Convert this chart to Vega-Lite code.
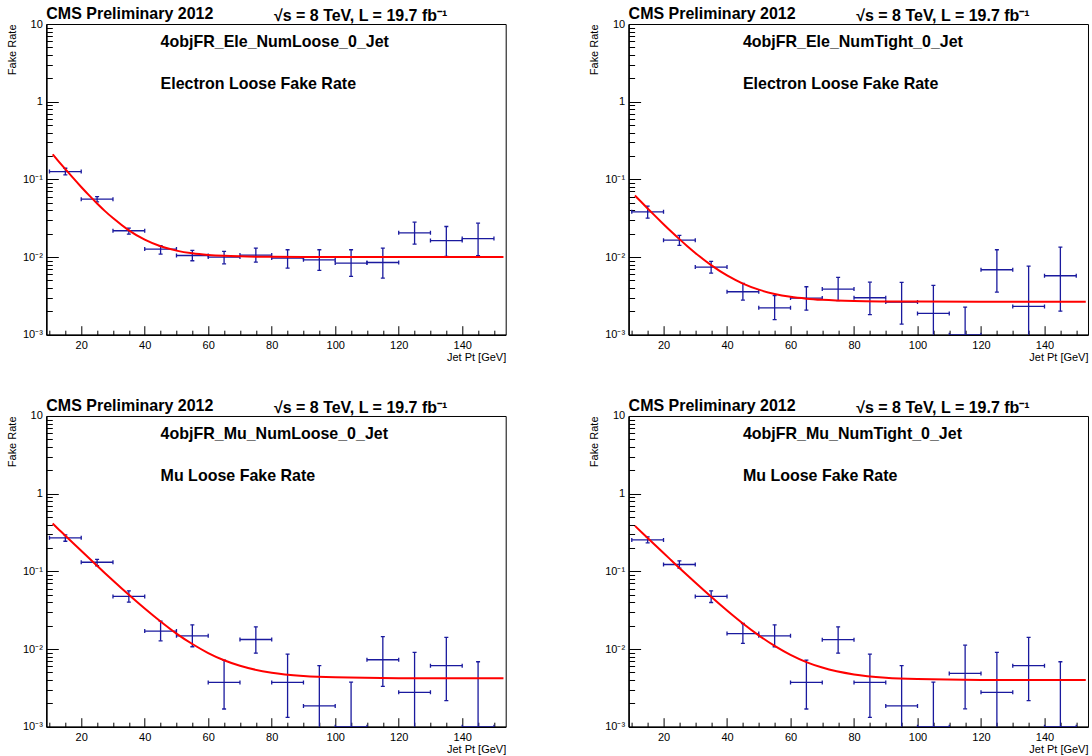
{
 "$schema": "https://vega.github.io/schema/vega-lite/v6.json",
 "background": "white",
 "padding": {"left": 5.3, "top": 5, "right": 4, "bottom": 4},
 "bounds": "flush",
 "columns": 2,
 "spacing": {"row": 81, "column": 122.3},
 "datasets": {
  "all": [
   {"p":"A","kind":"pt","x":15,"xlo":10,"xhi":20,"y":0.126,"lo":0.114,"hi":0.139},
   {"p":"A","kind":"pt","x":25,"xlo":20,"xhi":30,"y":0.0556,"lo":0.0514,"hi":0.0601},
   {"p":"A","kind":"pt","x":35,"xlo":30,"xhi":40,"y":0.0218,"lo":0.0197,"hi":0.0235},
   {"p":"A","kind":"pt","x":45,"xlo":40,"xhi":50,"y":0.01264,"lo":0.0109,"hi":0.01396},
   {"p":"A","kind":"pt","x":55,"xlo":50,"xhi":60,"y":0.01047,"lo":0.00895,"hi":0.01216},
   {"p":"A","kind":"pt","x":65,"xlo":60,"xhi":70,"y":0.0100,"lo":0.00818,"hi":0.0118},
   {"p":"A","kind":"pt","x":75,"xlo":70,"xhi":80,"y":0.0106,"lo":0.00861,"hi":0.01303},
   {"p":"A","kind":"pt","x":85,"xlo":80,"xhi":90,"y":0.0097,"lo":0.0072,"hi":0.0124},
   {"p":"A","kind":"pt","x":95,"xlo":90,"xhi":100,"y":0.0092,"lo":0.00672,"hi":0.0124},
   {"p":"A","kind":"pt","x":105,"xlo":100,"xhi":110,"y":0.00836,"lo":0.00562,"hi":0.0124},
   {"p":"A","kind":"pt","x":115,"xlo":110,"xhi":120,"y":0.0085,"lo":0.00536,"hi":0.01303},
   {"p":"A","kind":"pt","x":125,"xlo":120,"xhi":130,"y":0.0205,"lo":0.01466,"hi":0.0281},
   {"p":"A","kind":"pt","x":135,"xlo":130,"xhi":140,"y":0.0163,"lo":0.01017,"hi":0.0247},
   {"p":"A","kind":"pt","x":145,"xlo":140,"xhi":150,"y":0.0173,"lo":0.01038,"hi":0.0273},

   {"p":"B","kind":"pt","x":15,"xlo":10,"xhi":20,"y":0.0382,"lo":0.0316,"hi":0.0452},
   {"p":"B","kind":"pt","x":25,"xlo":20,"xhi":30,"y":0.0165,"lo":0.0141,"hi":0.019},
   {"p":"B","kind":"pt","x":35,"xlo":30,"xhi":40,"y":0.00742,"lo":0.00621,"hi":0.00877},
   {"p":"B","kind":"pt","x":45,"xlo":40,"xhi":50,"y":0.00357,"lo":0.00279,"hi":0.00457},
   {"p":"B","kind":"pt","x":55,"xlo":50,"xhi":60,"y":0.00222,"lo":0.00156,"hi":0.00318},
   {"p":"B","kind":"pt","x":65,"xlo":60,"xhi":70,"y":0.00296,"lo":0.00207,"hi":0.00414},
   {"p":"B","kind":"pt","x":75,"xlo":70,"xhi":80,"y":0.00387,"lo":0.00274,"hi":0.00546},
   {"p":"B","kind":"pt","x":85,"xlo":80,"xhi":90,"y":0.00299,"lo":0.00181,"hi":0.00475},
   {"p":"B","kind":"pt","x":95,"xlo":90,"xhi":100,"y":0.00263,"lo":0.00137,"hi":0.00472},
   {"p":"B","kind":"pt","x":105,"xlo":100,"xhi":110,"y":0.00188,"lo":0.0004,"hi":0.00432},
   {"p":"B","kind":"pt","x":115,"xlo":110,"xhi":120,"y":0.001,"lo":0.0004,"hi":0.00227},
   {"p":"B","kind":"pt","x":125,"xlo":120,"xhi":130,"y":0.00686,"lo":0.00354,"hi":0.0124},
   {"p":"B","kind":"pt","x":135,"xlo":130,"xhi":140,"y":0.00231,"lo":0.0004,"hi":0.00764},
   {"p":"B","kind":"pt","x":145,"xlo":140,"xhi":150,"y":0.00574,"lo":0.00201,"hi":0.01342},

   {"p":"C","kind":"pt","x":15,"xlo":10,"xhi":20,"y":0.27,"lo":0.244,"hi":0.294},
   {"p":"C","kind":"pt","x":25,"xlo":20,"xhi":30,"y":0.131,"lo":0.118,"hi":0.143},
   {"p":"C","kind":"pt","x":35,"xlo":30,"xhi":40,"y":0.0475,"lo":0.0401,"hi":0.0561},
   {"p":"C","kind":"pt","x":45,"xlo":40,"xhi":50,"y":0.017,"lo":0.01277,"hi":0.0229},
   {"p":"C","kind":"pt","x":55,"xlo":50,"xhi":60,"y":0.0148,"lo":0.0107,"hi":0.0205},
   {"p":"C","kind":"pt","x":65,"xlo":60,"xhi":70,"y":0.00372,"lo":0.00169,"hi":0.0072},
   {"p":"C","kind":"pt","x":75,"xlo":70,"xhi":80,"y":0.01327,"lo":0.00885,"hi":0.0193},
   {"p":"C","kind":"pt","x":85,"xlo":80,"xhi":90,"y":0.00372,"lo":0.00132,"hi":0.00861},
   {"p":"C","kind":"pt","x":95,"xlo":90,"xhi":100,"y":0.00185,"lo":0.0004,"hi":0.0061},
   {"p":"C","kind":"pt","x":105,"xlo":100,"xhi":110,"y":0.001,"lo":0.0004,"hi":0.00375},
   {"p":"C","kind":"pt","x":115,"xlo":110,"xhi":120,"y":0.00728,"lo":0.0033,"hi":0.0144},
   {"p":"C","kind":"pt","x":125,"xlo":120,"xhi":130,"y":0.00277,"lo":0.0004,"hi":0.00904},
   {"p":"C","kind":"pt","x":135,"xlo":130,"xhi":140,"y":0.0061,"lo":0.00216,"hi":0.0141},
   {"p":"C","kind":"pt","x":145,"xlo":140,"xhi":150,"y":0.001,"lo":0.0004,"hi":0.00686},

   {"p":"D","kind":"pt","x":15,"xlo":10,"xhi":20,"y":0.254,"lo":0.233,"hi":0.278},
   {"p":"D","kind":"pt","x":25,"xlo":20,"xhi":30,"y":0.1225,"lo":0.11,"hi":0.1365},
   {"p":"D","kind":"pt","x":35,"xlo":30,"xhi":40,"y":0.0475,"lo":0.0397,"hi":0.0561},
   {"p":"D","kind":"pt","x":45,"xlo":40,"xhi":50,"y":0.0158,"lo":0.0118,"hi":0.0213},
   {"p":"D","kind":"pt","x":55,"xlo":50,"xhi":60,"y":0.0148,"lo":0.0107,"hi":0.0205},
   {"p":"D","kind":"pt","x":65,"xlo":60,"xhi":70,"y":0.00372,"lo":0.00169,"hi":0.0072},
   {"p":"D","kind":"pt","x":75,"xlo":70,"xhi":80,"y":0.0132,"lo":0.00885,"hi":0.0193},
   {"p":"D","kind":"pt","x":85,"xlo":80,"xhi":90,"y":0.00372,"lo":0.00132,"hi":0.00861},
   {"p":"D","kind":"pt","x":95,"xlo":90,"xhi":100,"y":0.00185,"lo":0.0004,"hi":0.0061},
   {"p":"D","kind":"pt","x":105,"xlo":100,"xhi":110,"y":0.001,"lo":0.0004,"hi":0.00375},
   {"p":"D","kind":"pt","x":115,"xlo":110,"xhi":120,"y":0.00485,"lo":0.0017,"hi":0.0112},
   {"p":"D","kind":"pt","x":125,"xlo":120,"xhi":130,"y":0.00277,"lo":0.0004,"hi":0.00904},
   {"p":"D","kind":"pt","x":135,"xlo":130,"xhi":140,"y":0.0061,"lo":0.00216,"hi":0.0141},
   {"p":"D","kind":"pt","x":145,"xlo":140,"xhi":150,"y":0.001,"lo":0.0004,"hi":0.00686},

   {"p":"A","kind":"fit","x":11,"y":0.21},{"p":"A","kind":"fit","x":13,"y":0.1683},{"p":"A","kind":"fit","x":15,"y":0.1352},{"p":"A","kind":"fit","x":17.5,"y":0.1035},{"p":"A","kind":"fit","x":20,"y":0.0798},{"p":"A","kind":"fit","x":22.5,"y":0.0621},{"p":"A","kind":"fit","x":25,"y":0.0489},{"p":"A","kind":"fit","x":27.5,"y":0.039},{"p":"A","kind":"fit","x":30,"y":0.0317},{"p":"A","kind":"fit","x":35,"y":0.02206},{"p":"A","kind":"fit","x":40,"y":0.01672},{"p":"A","kind":"fit","x":45,"y":0.01374},{"p":"A","kind":"fit","x":50,"y":0.01209},{"p":"A","kind":"fit","x":55,"y":0.01116},{"p":"A","kind":"fit","x":60,"y":0.01065},{"p":"A","kind":"fit","x":65,"y":0.01036},{"p":"A","kind":"fit","x":70,"y":0.0102},{"p":"A","kind":"fit","x":80,"y":0.01006},{"p":"A","kind":"fit","x":90,"y":0.01002},{"p":"A","kind":"fit","x":100,"y":0.01},{"p":"A","kind":"fit","x":120,"y":0.01},{"p":"A","kind":"fit","x":153,"y":0.01},

   {"p":"B","kind":"fit","x":11,"y":0.06196},{"p":"B","kind":"fit","x":13,"y":0.05108},{"p":"B","kind":"fit","x":15,"y":0.04219},{"p":"B","kind":"fit","x":17.5,"y":0.03334},{"p":"B","kind":"fit","x":20,"y":0.02647},{"p":"B","kind":"fit","x":22.5,"y":0.02114},{"p":"B","kind":"fit","x":25,"y":0.017},{"p":"B","kind":"fit","x":27.5,"y":0.01379},{"p":"B","kind":"fit","x":30,"y":0.0113},{"p":"B","kind":"fit","x":35,"y":0.00786},{"p":"B","kind":"fit","x":40,"y":0.00579},{"p":"B","kind":"fit","x":45,"y":0.00455},{"p":"B","kind":"fit","x":50,"y":0.0038},{"p":"B","kind":"fit","x":55,"y":0.00334},{"p":"B","kind":"fit","x":60,"y":0.00307},{"p":"B","kind":"fit","x":65,"y":0.00291},{"p":"B","kind":"fit","x":70,"y":0.00281},{"p":"B","kind":"fit","x":80,"y":0.00271},{"p":"B","kind":"fit","x":90,"y":0.00268},{"p":"B","kind":"fit","x":100,"y":0.00267},{"p":"B","kind":"fit","x":120,"y":0.00266},{"p":"B","kind":"fit","x":153,"y":0.00266},

   {"p":"C","kind":"fit","x":11,"y":0.412},{"p":"C","kind":"fit","x":13,"y":0.3442},{"p":"C","kind":"fit","x":15,"y":0.2875},{"p":"C","kind":"fit","x":17.5,"y":0.2297},{"p":"C","kind":"fit","x":20,"y":0.1838},{"p":"C","kind":"fit","x":22.5,"y":0.1472},{"p":"C","kind":"fit","x":25,"y":0.118},{"p":"C","kind":"fit","x":27.5,"y":0.0948},{"p":"C","kind":"fit","x":30,"y":0.0763},{"p":"C","kind":"fit","x":35,"y":0.0499},{"p":"C","kind":"fit","x":40,"y":0.0332},{"p":"C","kind":"fit","x":45,"y":0.0226},{"p":"C","kind":"fit","x":50,"y":0.0158},{"p":"C","kind":"fit","x":55,"y":0.0116},{"p":"C","kind":"fit","x":60,"y":0.00888},{"p":"C","kind":"fit","x":65,"y":0.00716},{"p":"C","kind":"fit","x":70,"y":0.00608},{"p":"C","kind":"fit","x":80,"y":0.00495},{"p":"C","kind":"fit","x":90,"y":0.0045},{"p":"C","kind":"fit","x":100,"y":0.00432},{"p":"C","kind":"fit","x":120,"y":0.00422},{"p":"C","kind":"fit","x":153,"y":0.0042},

   {"p":"D","kind":"fit","x":11,"y":0.385},{"p":"D","kind":"fit","x":13,"y":0.3217},{"p":"D","kind":"fit","x":15,"y":0.2689},{"p":"D","kind":"fit","x":17.5,"y":0.215},{"p":"D","kind":"fit","x":20,"y":0.1721},{"p":"D","kind":"fit","x":22.5,"y":0.138},{"p":"D","kind":"fit","x":25,"y":0.1107},{"p":"D","kind":"fit","x":27.5,"y":0.089},{"p":"D","kind":"fit","x":30,"y":0.0717},{"p":"D","kind":"fit","x":35,"y":0.047},{"p":"D","kind":"fit","x":40,"y":0.0313},{"p":"D","kind":"fit","x":45,"y":0.0213},{"p":"D","kind":"fit","x":50,"y":0.01498},{"p":"D","kind":"fit","x":55,"y":0.01096},{"p":"D","kind":"fit","x":60,"y":0.00841},{"p":"D","kind":"fit","x":65,"y":0.00679},{"p":"D","kind":"fit","x":70,"y":0.00577},{"p":"D","kind":"fit","x":80,"y":0.0047},{"p":"D","kind":"fit","x":90,"y":0.00427},{"p":"D","kind":"fit","x":100,"y":0.0041},{"p":"D","kind":"fit","x":120,"y":0.004},{"p":"D","kind":"fit","x":153,"y":0.00398},

   {"p":"A","kind":"lab","x":9,"y":11.5,"text":"CMS Preliminary 2012"},
   {"p":"A","kind":"lab","x":80.7,"y":11.0,"text":"√s = 8 TeV, L = 19.7 fb⁻¹"},
   {"p":"A","kind":"lab","x":45,"y":5.1,"text":"4objFR_Ele_NumLoose_0_Jet"},
   {"p":"A","kind":"lab","x":45,"y":1.444,"text":"Electron Loose Fake Rate"},
   {"p":"B","kind":"lab","x":9,"y":11.5,"text":"CMS Preliminary 2012"},
   {"p":"B","kind":"lab","x":80.7,"y":11.0,"text":"√s = 8 TeV, L = 19.7 fb⁻¹"},
   {"p":"B","kind":"lab","x":45,"y":5.1,"text":"4objFR_Ele_NumTight_0_Jet"},
   {"p":"B","kind":"lab","x":45,"y":1.444,"text":"Electron Loose Fake Rate"},
   {"p":"C","kind":"lab","x":9,"y":11.5,"text":"CMS Preliminary 2012"},
   {"p":"C","kind":"lab","x":80.7,"y":11.0,"text":"√s = 8 TeV, L = 19.7 fb⁻¹"},
   {"p":"C","kind":"lab","x":45,"y":5.1,"text":"4objFR_Mu_NumLoose_0_Jet"},
   {"p":"C","kind":"lab","x":45,"y":1.444,"text":"Mu Loose Fake Rate"},
   {"p":"D","kind":"lab","x":9,"y":11.5,"text":"CMS Preliminary 2012"},
   {"p":"D","kind":"lab","x":80.7,"y":11.0,"text":"√s = 8 TeV, L = 19.7 fb⁻¹"},
   {"p":"D","kind":"lab","x":45,"y":5.1,"text":"4objFR_Mu_NumTight_0_Jet"},
   {"p":"D","kind":"lab","x":45,"y":1.444,"text":"Mu Loose Fake Rate"}
  ]
 },
 "data": {"name": "all"},
 "concat": [
   {"width": 459.4, "height": 310.7, "transform": [{"filter": "datum.p == 'A'"}], "layer": [
    {"transform": [{"filter": "datum.kind == 'pt'"}], "mark": {"type": "rule", "color": "#1a1a9e", "strokeWidth": 1.3, "clip": true},
     "encoding": {"x": {"field": "xlo", "type": "quantitative"}, "x2": {"field": "xhi"}, "y": {"field": "y", "type": "quantitative"}}},
    {"transform": [{"filter": "datum.kind == 'pt'"}], "mark": {"type": "rule", "color": "#1a1a9e", "strokeWidth": 1.3, "clip": true},
     "encoding": {"x": {"field": "x", "type": "quantitative"}, "y": {"field": "lo", "type": "quantitative"}, "y2": {"field": "hi"}}},
    {"transform": [{"filter": "datum.kind == 'pt'"}], "mark": {"type": "tick", "orient": "vertical", "size": 4, "thickness": 1.3, "color": "#1a1a9e", "opacity": 1, "clip": true},
     "encoding": {"x": {"field": "xlo", "type": "quantitative"}, "y": {"field": "y", "type": "quantitative"}}},
    {"transform": [{"filter": "datum.kind == 'pt'"}], "mark": {"type": "tick", "orient": "vertical", "size": 4, "thickness": 1.3, "color": "#1a1a9e", "opacity": 1, "clip": true},
     "encoding": {"x": {"field": "xhi", "type": "quantitative"}, "y": {"field": "y", "type": "quantitative"}}},
    {"transform": [{"filter": "datum.kind == 'pt'"}], "mark": {"type": "tick", "orient": "horizontal", "size": 4, "thickness": 1.3, "color": "#1a1a9e", "opacity": 1, "clip": true},
     "encoding": {"x": {"field": "x", "type": "quantitative"}, "y": {"field": "lo", "type": "quantitative"}}},
    {"transform": [{"filter": "datum.kind == 'pt'"}], "mark": {"type": "tick", "orient": "horizontal", "size": 4, "thickness": 1.3, "color": "#1a1a9e", "opacity": 1, "clip": true},
     "encoding": {"x": {"field": "x", "type": "quantitative"}, "y": {"field": "hi", "type": "quantitative"}}},
    {"transform": [{"filter": "datum.kind == 'fit'"}], "mark": {"type": "line", "color": "#ff0000", "strokeWidth": 2, "interpolate": "monotone", "clip": true},
     "encoding": {"x": {"field": "x", "type": "quantitative"}, "y": {"field": "y", "type": "quantitative"}}},
    {"transform": [{"filter": "datum.kind == 'lab'"}], "mark": {"type": "text", "align": "left", "baseline": "alphabetic", "fontSize": 16, "fontWeight": "bold", "color": "#000000"},
     "encoding": {"x": {"field": "x", "type": "quantitative", "scale": {"domain": [9, 153.7], "nice": false, "zero": false},
       "axis": {"values": [10,15,20,25,30,35,40,45,50,55,60,65,70,75,80,85,90,95,100,105,110,115,120,125,130,135,140,145,150], "tickCount": 100, "labelExpr": "indexof([20,40,60,80,100,120,140], datum.value) >= 0 ? datum.label : ''", "tickSize": {"condition": {"test": "indexof([20,40,60,80,100,120,140], datum.value) >= 0", "value": -9}, "value": -4.5}, "labelPadding": 14, "title": "Jet Pt [GeV]", "titleX": 459.4, "titleY": 25.5}},
      "y": {"field": "y", "type": "quantitative", "scale": {"type": "log", "domain": [0.001, 10], "nice": false},
       "axis": {"values": [0.001,0.002,0.003,0.004,0.005,0.006,0.007,0.008,0.009,0.01,0.02,0.03,0.04,0.05,0.06,0.07,0.08,0.09,0.1,0.2,0.3,0.4,0.5,0.6,0.7,0.8,0.9,1,2,3,4,5,6,7,8,9,10], "tickCount": 100, "labelExpr": "datum.value == 0.001 ? '10⁻³' : datum.value == 0.01 ? '10⁻²' : datum.value == 0.1 ? '10⁻¹' : datum.value == 1 ? '1' : datum.value == 10 ? '10' : ''", "tickSize": {"condition": {"test": "indexof([0.001,0.01,0.1,1,10], datum.value) >= 0", "value": -12}, "value": -6}, "labelPadding": 16, "title": "Fake Rate", "titleX": -33.6, "titleY": 0}},
      "text": {"field": "text", "type": "nominal"}}}
   ]},
   {"width": 459.4, "height": 310.7, "transform": [{"filter": "datum.p == 'B'"}], "layer": [
    {"transform": [{"filter": "datum.kind == 'pt'"}], "mark": {"type": "rule", "color": "#1a1a9e", "strokeWidth": 1.3, "clip": true},
     "encoding": {"x": {"field": "xlo", "type": "quantitative"}, "x2": {"field": "xhi"}, "y": {"field": "y", "type": "quantitative"}}},
    {"transform": [{"filter": "datum.kind == 'pt'"}], "mark": {"type": "rule", "color": "#1a1a9e", "strokeWidth": 1.3, "clip": true},
     "encoding": {"x": {"field": "x", "type": "quantitative"}, "y": {"field": "lo", "type": "quantitative"}, "y2": {"field": "hi"}}},
    {"transform": [{"filter": "datum.kind == 'pt'"}], "mark": {"type": "tick", "orient": "vertical", "size": 4, "thickness": 1.3, "color": "#1a1a9e", "opacity": 1, "clip": true},
     "encoding": {"x": {"field": "xlo", "type": "quantitative"}, "y": {"field": "y", "type": "quantitative"}}},
    {"transform": [{"filter": "datum.kind == 'pt'"}], "mark": {"type": "tick", "orient": "vertical", "size": 4, "thickness": 1.3, "color": "#1a1a9e", "opacity": 1, "clip": true},
     "encoding": {"x": {"field": "xhi", "type": "quantitative"}, "y": {"field": "y", "type": "quantitative"}}},
    {"transform": [{"filter": "datum.kind == 'pt'"}], "mark": {"type": "tick", "orient": "horizontal", "size": 4, "thickness": 1.3, "color": "#1a1a9e", "opacity": 1, "clip": true},
     "encoding": {"x": {"field": "x", "type": "quantitative"}, "y": {"field": "lo", "type": "quantitative"}}},
    {"transform": [{"filter": "datum.kind == 'pt'"}], "mark": {"type": "tick", "orient": "horizontal", "size": 4, "thickness": 1.3, "color": "#1a1a9e", "opacity": 1, "clip": true},
     "encoding": {"x": {"field": "x", "type": "quantitative"}, "y": {"field": "hi", "type": "quantitative"}}},
    {"transform": [{"filter": "datum.kind == 'fit'"}], "mark": {"type": "line", "color": "#ff0000", "strokeWidth": 2, "interpolate": "monotone", "clip": true},
     "encoding": {"x": {"field": "x", "type": "quantitative"}, "y": {"field": "y", "type": "quantitative"}}},
    {"transform": [{"filter": "datum.kind == 'lab'"}], "mark": {"type": "text", "align": "left", "baseline": "alphabetic", "fontSize": 16, "fontWeight": "bold", "color": "#000000"},
     "encoding": {"x": {"field": "x", "type": "quantitative", "scale": {"domain": [9, 153.7], "nice": false, "zero": false},
       "axis": {"values": [10,15,20,25,30,35,40,45,50,55,60,65,70,75,80,85,90,95,100,105,110,115,120,125,130,135,140,145,150], "tickCount": 100, "labelExpr": "indexof([20,40,60,80,100,120,140], datum.value) >= 0 ? datum.label : ''", "tickSize": {"condition": {"test": "indexof([20,40,60,80,100,120,140], datum.value) >= 0", "value": -9}, "value": -4.5}, "labelPadding": 14, "title": "Jet Pt [GeV]", "titleX": 459.4, "titleY": 25.5}},
      "y": {"field": "y", "type": "quantitative", "scale": {"type": "log", "domain": [0.001, 10], "nice": false},
       "axis": {"values": [0.001,0.002,0.003,0.004,0.005,0.006,0.007,0.008,0.009,0.01,0.02,0.03,0.04,0.05,0.06,0.07,0.08,0.09,0.1,0.2,0.3,0.4,0.5,0.6,0.7,0.8,0.9,1,2,3,4,5,6,7,8,9,10], "tickCount": 100, "labelExpr": "datum.value == 0.001 ? '10⁻³' : datum.value == 0.01 ? '10⁻²' : datum.value == 0.1 ? '10⁻¹' : datum.value == 1 ? '1' : datum.value == 10 ? '10' : ''", "tickSize": {"condition": {"test": "indexof([0.001,0.01,0.1,1,10], datum.value) >= 0", "value": -12}, "value": -6}, "labelPadding": 16, "title": "Fake Rate", "titleX": -33.6, "titleY": 0}},
      "text": {"field": "text", "type": "nominal"}}}
   ]},
   {"width": 459.4, "height": 310.7, "transform": [{"filter": "datum.p == 'C'"}], "layer": [
    {"transform": [{"filter": "datum.kind == 'pt'"}], "mark": {"type": "rule", "color": "#1a1a9e", "strokeWidth": 1.3, "clip": true},
     "encoding": {"x": {"field": "xlo", "type": "quantitative"}, "x2": {"field": "xhi"}, "y": {"field": "y", "type": "quantitative"}}},
    {"transform": [{"filter": "datum.kind == 'pt'"}], "mark": {"type": "rule", "color": "#1a1a9e", "strokeWidth": 1.3, "clip": true},
     "encoding": {"x": {"field": "x", "type": "quantitative"}, "y": {"field": "lo", "type": "quantitative"}, "y2": {"field": "hi"}}},
    {"transform": [{"filter": "datum.kind == 'pt'"}], "mark": {"type": "tick", "orient": "vertical", "size": 4, "thickness": 1.3, "color": "#1a1a9e", "opacity": 1, "clip": true},
     "encoding": {"x": {"field": "xlo", "type": "quantitative"}, "y": {"field": "y", "type": "quantitative"}}},
    {"transform": [{"filter": "datum.kind == 'pt'"}], "mark": {"type": "tick", "orient": "vertical", "size": 4, "thickness": 1.3, "color": "#1a1a9e", "opacity": 1, "clip": true},
     "encoding": {"x": {"field": "xhi", "type": "quantitative"}, "y": {"field": "y", "type": "quantitative"}}},
    {"transform": [{"filter": "datum.kind == 'pt'"}], "mark": {"type": "tick", "orient": "horizontal", "size": 4, "thickness": 1.3, "color": "#1a1a9e", "opacity": 1, "clip": true},
     "encoding": {"x": {"field": "x", "type": "quantitative"}, "y": {"field": "lo", "type": "quantitative"}}},
    {"transform": [{"filter": "datum.kind == 'pt'"}], "mark": {"type": "tick", "orient": "horizontal", "size": 4, "thickness": 1.3, "color": "#1a1a9e", "opacity": 1, "clip": true},
     "encoding": {"x": {"field": "x", "type": "quantitative"}, "y": {"field": "hi", "type": "quantitative"}}},
    {"transform": [{"filter": "datum.kind == 'fit'"}], "mark": {"type": "line", "color": "#ff0000", "strokeWidth": 2, "interpolate": "monotone", "clip": true},
     "encoding": {"x": {"field": "x", "type": "quantitative"}, "y": {"field": "y", "type": "quantitative"}}},
    {"transform": [{"filter": "datum.kind == 'lab'"}], "mark": {"type": "text", "align": "left", "baseline": "alphabetic", "fontSize": 16, "fontWeight": "bold", "color": "#000000"},
     "encoding": {"x": {"field": "x", "type": "quantitative", "scale": {"domain": [9, 153.7], "nice": false, "zero": false},
       "axis": {"values": [10,15,20,25,30,35,40,45,50,55,60,65,70,75,80,85,90,95,100,105,110,115,120,125,130,135,140,145,150], "tickCount": 100, "labelExpr": "indexof([20,40,60,80,100,120,140], datum.value) >= 0 ? datum.label : ''", "tickSize": {"condition": {"test": "indexof([20,40,60,80,100,120,140], datum.value) >= 0", "value": -9}, "value": -4.5}, "labelPadding": 14, "title": "Jet Pt [GeV]", "titleX": 459.4, "titleY": 25.5}},
      "y": {"field": "y", "type": "quantitative", "scale": {"type": "log", "domain": [0.001, 10], "nice": false},
       "axis": {"values": [0.001,0.002,0.003,0.004,0.005,0.006,0.007,0.008,0.009,0.01,0.02,0.03,0.04,0.05,0.06,0.07,0.08,0.09,0.1,0.2,0.3,0.4,0.5,0.6,0.7,0.8,0.9,1,2,3,4,5,6,7,8,9,10], "tickCount": 100, "labelExpr": "datum.value == 0.001 ? '10⁻³' : datum.value == 0.01 ? '10⁻²' : datum.value == 0.1 ? '10⁻¹' : datum.value == 1 ? '1' : datum.value == 10 ? '10' : ''", "tickSize": {"condition": {"test": "indexof([0.001,0.01,0.1,1,10], datum.value) >= 0", "value": -12}, "value": -6}, "labelPadding": 16, "title": "Fake Rate", "titleX": -33.6, "titleY": 0}},
      "text": {"field": "text", "type": "nominal"}}}
   ]},
   {"width": 459.4, "height": 310.7, "transform": [{"filter": "datum.p == 'D'"}], "layer": [
    {"transform": [{"filter": "datum.kind == 'pt'"}], "mark": {"type": "rule", "color": "#1a1a9e", "strokeWidth": 1.3, "clip": true},
     "encoding": {"x": {"field": "xlo", "type": "quantitative"}, "x2": {"field": "xhi"}, "y": {"field": "y", "type": "quantitative"}}},
    {"transform": [{"filter": "datum.kind == 'pt'"}], "mark": {"type": "rule", "color": "#1a1a9e", "strokeWidth": 1.3, "clip": true},
     "encoding": {"x": {"field": "x", "type": "quantitative"}, "y": {"field": "lo", "type": "quantitative"}, "y2": {"field": "hi"}}},
    {"transform": [{"filter": "datum.kind == 'pt'"}], "mark": {"type": "tick", "orient": "vertical", "size": 4, "thickness": 1.3, "color": "#1a1a9e", "opacity": 1, "clip": true},
     "encoding": {"x": {"field": "xlo", "type": "quantitative"}, "y": {"field": "y", "type": "quantitative"}}},
    {"transform": [{"filter": "datum.kind == 'pt'"}], "mark": {"type": "tick", "orient": "vertical", "size": 4, "thickness": 1.3, "color": "#1a1a9e", "opacity": 1, "clip": true},
     "encoding": {"x": {"field": "xhi", "type": "quantitative"}, "y": {"field": "y", "type": "quantitative"}}},
    {"transform": [{"filter": "datum.kind == 'pt'"}], "mark": {"type": "tick", "orient": "horizontal", "size": 4, "thickness": 1.3, "color": "#1a1a9e", "opacity": 1, "clip": true},
     "encoding": {"x": {"field": "x", "type": "quantitative"}, "y": {"field": "lo", "type": "quantitative"}}},
    {"transform": [{"filter": "datum.kind == 'pt'"}], "mark": {"type": "tick", "orient": "horizontal", "size": 4, "thickness": 1.3, "color": "#1a1a9e", "opacity": 1, "clip": true},
     "encoding": {"x": {"field": "x", "type": "quantitative"}, "y": {"field": "hi", "type": "quantitative"}}},
    {"transform": [{"filter": "datum.kind == 'fit'"}], "mark": {"type": "line", "color": "#ff0000", "strokeWidth": 2, "interpolate": "monotone", "clip": true},
     "encoding": {"x": {"field": "x", "type": "quantitative"}, "y": {"field": "y", "type": "quantitative"}}},
    {"transform": [{"filter": "datum.kind == 'lab'"}], "mark": {"type": "text", "align": "left", "baseline": "alphabetic", "fontSize": 16, "fontWeight": "bold", "color": "#000000"},
     "encoding": {"x": {"field": "x", "type": "quantitative", "scale": {"domain": [9, 153.7], "nice": false, "zero": false},
       "axis": {"values": [10,15,20,25,30,35,40,45,50,55,60,65,70,75,80,85,90,95,100,105,110,115,120,125,130,135,140,145,150], "tickCount": 100, "labelExpr": "indexof([20,40,60,80,100,120,140], datum.value) >= 0 ? datum.label : ''", "tickSize": {"condition": {"test": "indexof([20,40,60,80,100,120,140], datum.value) >= 0", "value": -9}, "value": -4.5}, "labelPadding": 14, "title": "Jet Pt [GeV]", "titleX": 459.4, "titleY": 25.5}},
      "y": {"field": "y", "type": "quantitative", "scale": {"type": "log", "domain": [0.001, 10], "nice": false},
       "axis": {"values": [0.001,0.002,0.003,0.004,0.005,0.006,0.007,0.008,0.009,0.01,0.02,0.03,0.04,0.05,0.06,0.07,0.08,0.09,0.1,0.2,0.3,0.4,0.5,0.6,0.7,0.8,0.9,1,2,3,4,5,6,7,8,9,10], "tickCount": 100, "labelExpr": "datum.value == 0.001 ? '10⁻³' : datum.value == 0.01 ? '10⁻²' : datum.value == 0.1 ? '10⁻¹' : datum.value == 1 ? '1' : datum.value == 10 ? '10' : ''", "tickSize": {"condition": {"test": "indexof([0.001,0.01,0.1,1,10], datum.value) >= 0", "value": -12}, "value": -6}, "labelPadding": 16, "title": "Fake Rate", "titleX": -33.6, "titleY": 0}},
      "text": {"field": "text", "type": "nominal"}}}
   ]}
 ],
 "config": {
  "font": "Liberation Sans",
  "view": {"stroke": "#000000", "strokeWidth": 1},
  "text": {"font": "Liberation Sans"},
  "axis": {
   "grid": false,
   "domain": true,
   "domainColor": "#000000",
   "domainWidth": 1.5,
   "tickColor": "#000000",
   "tickWidth": 1,
   "labelFont": "Liberation Sans",
   "labelFontSize": 11,
   "labelColor": "#000000",
   "labelOverlap": false,
   "labelBound": false,
   "labelFlush": false,
   "titleFont": "Liberation Sans",
   "titleFontSize": 11,
   "titleFontWeight": "normal",
   "titleColor": "#000000"
  },
  "axisX": {"titleAlign": "right", "titleAnchor": null, "titleBaseline": "alphabetic"},
  "axisY": {"titleAngle": 270, "titleAlign": "right", "titleAnchor": null, "titleBaseline": "middle"}
 }
}
